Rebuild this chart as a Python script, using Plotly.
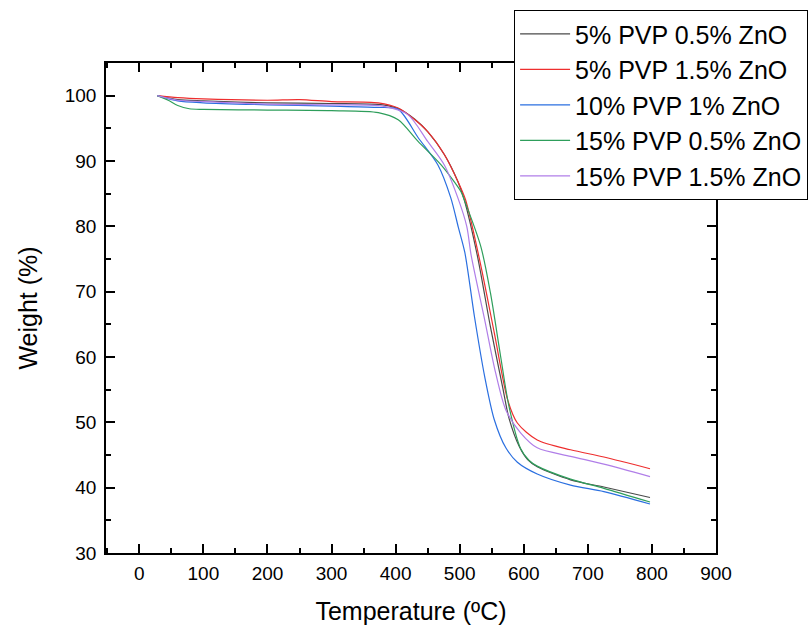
import plotly.graph_objects as go

# ---- data ----
names = ["5% PVP 0.5% ZnO", "5% PVP 1.5% ZnO", "10% PVP 1% ZnO",
         "15% PVP 0.5% ZnO", "15% PVP 1.5% ZnO"]
colors = ["#4a4a4a", "#ee2e2e", "#2a6fe0", "#2e9e5b", "#b07ee8"]

temp_pvp5_zno05 = [28, 60, 100, 200, 300, 380, 405, 430, 450, 476, 497, 507, 528, 548, 567, 577, 593, 606, 621, 673, 725, 797]
wt_pvp5_zno05 = [100, 99.4, 99.2, 98.9, 98.8, 98.6, 98.0, 96.4, 94.5, 91.0, 86.9, 84.1, 75.3, 64.6, 55.4, 50.6, 46.3, 44.3, 43.2, 41.2, 40.1, 38.5]

temp_pvp5_zno15 = [28, 60, 100, 200, 250, 300, 373, 404, 430, 450, 476, 497, 509, 531, 554, 575, 590, 621, 673, 725, 797]
wt_pvp5_zno15 = [100, 99.7, 99.5, 99.3, 99.4, 99.1, 98.9, 98.1, 96.3, 94.5, 91.0, 86.9, 84.1, 74.9, 63.7, 53.4, 49.9, 47.3, 45.8, 44.7, 42.9]

temp_pvp10_zno1 = [28, 60, 100, 200, 300, 370, 404, 435, 466, 486, 498, 508, 523, 539, 554, 572, 590, 621, 673, 725, 797]
wt_pvp10_zno1 = [100, 99.2, 98.9, 98.6, 98.4, 98.2, 97.9, 93.6, 89.4, 84.4, 79.8, 76.0, 66.2, 57.0, 50.4, 46.1, 43.9, 42.1, 40.4, 39.4, 37.5]

temp_pvp15_zno05 = [28, 45, 60, 78, 100, 200, 300, 373, 404, 435, 471, 502, 507, 533, 548, 564, 577, 595, 608, 621, 673, 725, 797]
wt_pvp15_zno05 = [100, 99.3, 98.5, 98.0, 97.9, 97.8, 97.7, 97.4, 96.3, 93.0, 89.4, 85.3, 84.1, 76.9, 69.8, 60.0, 52.4, 46.0, 44.2, 43.3, 41.3, 39.9, 37.8]

temp_pvp15_zno15 = [28, 60, 100, 200, 300, 380, 419, 450, 476, 497, 511, 518, 539, 556, 572, 595, 621, 673, 725, 797]
wt_pvp15_zno15 = [100, 99.3, 99.1, 98.7, 98.6, 98.4, 97.1, 93.0, 89.4, 84.4, 80.0, 75.5, 65.7, 57.6, 51.9, 48.4, 46.1, 44.8, 43.6, 41.7]

series_x = [temp_pvp5_zno05, temp_pvp5_zno15, temp_pvp10_zno1, temp_pvp15_zno05, temp_pvp15_zno15]
series_y = [wt_pvp5_zno05, wt_pvp5_zno15, wt_pvp10_zno1, wt_pvp15_zno05, wt_pvp15_zno15]

x_ticks = [0, 100, 200, 300, 400, 500, 600, 700, 800, 900]
y_ticks = [30, 40, 50, 60, 70, 80, 90, 100]

FONT = "Liberation Sans, Arial, sans-serif"

fig = go.Figure()
for n, c, xs, ys in zip(names, colors, series_x, series_y):
    fig.add_trace(go.Scatter(x=xs, y=ys, mode="lines", name=n,
                             line=dict(color=c, width=1.2, shape="spline", smoothing=0.8)))

axis_common = dict(
    showline=True, linecolor="black", linewidth=1.6, mirror="allticks",
    ticks="inside", ticklen=9, tickwidth=1.6, tickcolor="black",
    showgrid=False, zeroline=False,
    tickfont=dict(family=FONT, size=19, color="black"),
)

fig.update_xaxes(
    range=[-52, 900], tickvals=x_ticks, ticklabelstandoff=2,
    title=dict(text="Temperature (ºC)", font=dict(family=FONT, size=25, color="black"), standoff=20),
    minor=dict(dtick=50, tick0=0, ticks="inside", ticklen=5, tickwidth=1.6, tickcolor="black"),
    **axis_common)
fig.update_yaxes(
    range=[30, 105], tickvals=y_ticks, ticklabelstandoff=4,
    title=dict(text="Weight (%)", font=dict(family=FONT, size=25, color="black"), standoff=20),
    minor=dict(dtick=5, tick0=0, ticks="inside", ticklen=5, tickwidth=1.6, tickcolor="black"),
    **axis_common)

fig.update_layout(
    width=812, height=628,
    margin=dict(l=106, r=96, t=63, b=75, autoexpand=False),
    paper_bgcolor="white", plot_bgcolor="white",
    font=dict(family=FONT, color="black"),
    legend=dict(x=0.669, y=1.108, xanchor="left", yanchor="top",
                bgcolor="white", bordercolor="black", borderwidth=1,
                font=dict(family=FONT, size=25, color="black"),
                itemwidth=50),
    showlegend=True,
)

fig.write_html("out.html")
